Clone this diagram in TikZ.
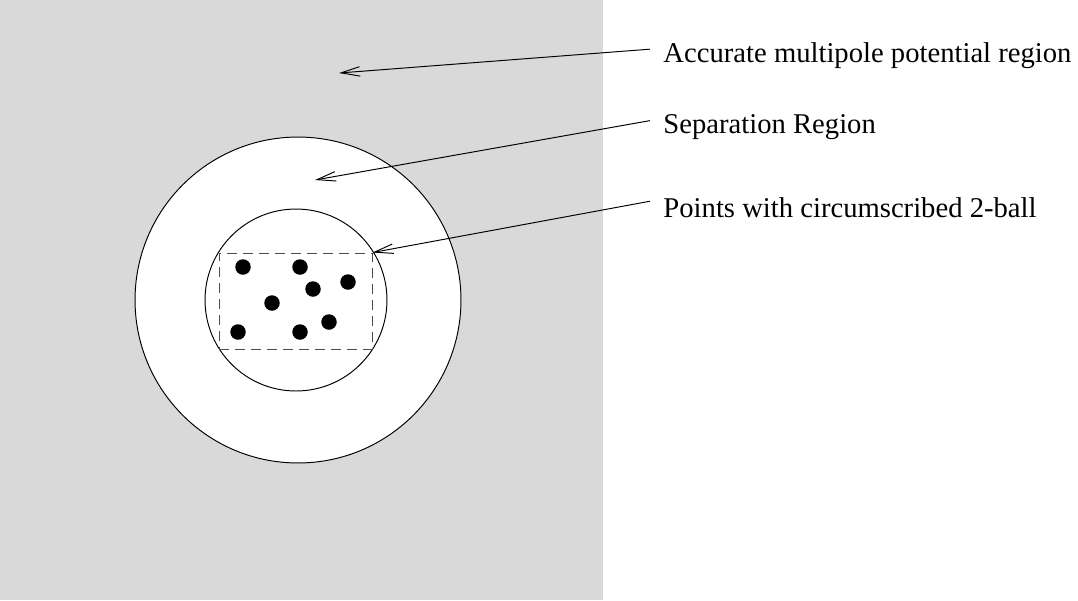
\documentclass[tikz,border=0pt]{standalone}
\usepackage{fontspec}
\setmainfont{Liberation Serif}
\usetikzlibrary{%
  positioning
 ,arrows.meta
}
\definecolor{farfield}{HTML}{D9D9D9}
\tikzstyle{geo}=[x=0.02cm,y=-0.02cm,line width=0.55pt]
\tikzstyle{ball}=[circle,draw=black,fill=white,inner sep=0pt]
\tikzstyle{pt}=[circle,fill=black,inner sep=0pt,minimum size=0.31cm]
\tikzstyle{hullbox}=[rectangle,draw=black!70,dash pattern=on 5.7pt off 3.4pt,inner sep=0pt]
\tikzstyle{lbl}=[anchor=base west,inner sep=0pt,font=\fontsize{16.3}{19}\selectfont]
\tikzstyle{ptr}=[-{Straight Barb[length=10.8pt,width=5.4pt]},line width=0.55pt]

\begin{document}
\begin{tikzpicture}[geo]
  \useasboundingbox (0,0) rectangle (1078,600);
  \fill[farfield] (0,0) rectangle (603,600);
  \node[ball,minimum size=6.52cm] (sep) at (298,300) {};
  \node[ball,minimum size=3.64cm] (ball) at (296,300) {};
  \node[hullbox,minimum width=3.06cm,minimum height=1.92cm] (hull) at (295.5,301) {};
  % points in the ball
  \foreach \x/\y [count=\i] in {243/267,300/267,348/282,313/289,272/303,238/332,300/332,329/322}
    \node[pt] (p\i) at (\x,\y) {};
  % labels
  \node[lbl] (accur) at (663,62) {Accurate multipole potential region};
  \node[lbl] (seplbl) at (663,133) {Separation Region};
  \node[lbl] (ptslbl) at (663,217) {Points with circumscribed 2-ball};
  \coordinate (farpt) at (339,73);
  \coordinate (seppt) at (315,180);
  \draw[ptr] ([shift={(-13,-6)}]accur.west) -- (farpt);
  \draw[ptr] ([shift={(-13,-6)}]seplbl.west) -- (seppt);
  \draw[ptr] ([shift={(-13,-6)}]ptslbl.west) -- (hull.north east);
\end{tikzpicture}
\end{document}
